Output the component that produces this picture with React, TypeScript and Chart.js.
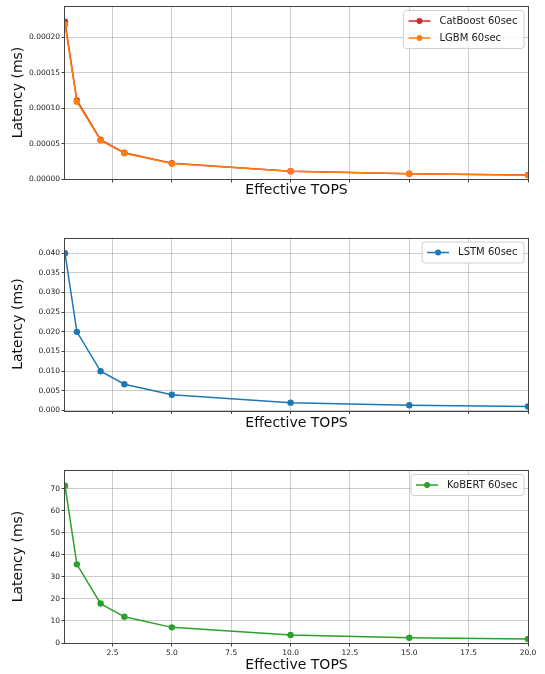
import React, { useEffect, useRef } from "react";
import { Chart, registerables } from "chart.js";

Chart.register(...registerables);

const tops = [0.5, 1, 2, 3, 5, 10, 15, 20];
const catboost = [0.000222, 0.000111, 0.0000555, 0.000037, 0.0000222, 0.0000111, 0.0000074, 0.00000555];
const lgbm = [0.000218, 0.000109, 0.0000545, 0.0000363, 0.0000218, 0.0000109, 0.0000073, 0.00000545];
const lstm = [0.04, 0.02, 0.01, 0.00667, 0.004, 0.002, 0.00133, 0.001];
const kobert = [71.4, 35.7, 17.9, 11.9, 7.1, 3.6, 2.4, 1.8];

const xTicks = [2.5, 5, 7.5, 10, 12.5, 15, 17.5, 20];
const xTickLabels = ["2.5", "5.0", "7.5", "10.0", "12.5", "15.0", "17.5", "20.0"];

const yTicks1 = [0, 0.00005, 0.0001, 0.00015, 0.0002];
const yTickLabels1 = ["0.00000", "0.00005", "0.00010", "0.00015", "0.00020"];
const yTicks2 = [0, 0.005, 0.01, 0.015, 0.02, 0.025, 0.03, 0.035, 0.04];
const yTickLabels2 = ["0.000", "0.005", "0.010", "0.015", "0.020", "0.025", "0.030", "0.035", "0.040"];
const yTicks3 = [0, 10, 20, 30, 40, 50, 60, 70];
const yTickLabels3 = ["0", "10", "20", "30", "40", "50", "60", "70"];

const FONT = '"DejaVu Sans", "Liberation Sans", sans-serif';

type Series = { label: string; data: number[]; color: string; order: number };

const spinePlugin = {
  id: "spines",
  afterDatasetsDraw(chart: any) {
    const { ctx, chartArea } = chart;
    ctx.save();
    ctx.strokeStyle = "#444";
    ctx.lineWidth = 1;
    const l = Math.round(chartArea.left) - 0.5;
    const t = Math.round(chartArea.top) + 0.5;
    const r = Math.round(chartArea.right) + 0.5;
    const b = Math.round(chartArea.bottom) + 0.5;
    ctx.strokeRect(l, t, r - l, b - t);
    ctx.restore();
  },
};

const legendPlugin = {
  id: "innerLegend",
  afterDraw(chart: any) {
    const { ctx, chartArea } = chart;
    const ds = chart.data.datasets;
    ctx.save();
    ctx.font = `10px ${FONT}`;
    const textW = Math.max(...ds.map((d: any) => ctx.measureText(d.label).width));
    const w = textW + 42.5;
    const h = 21 + 17 * (ds.length - 1);
    const x = chartArea.right - 4 - w;
    const y = chartArea.top + 4.5;
    ctx.beginPath();
    (ctx as any).roundRect(x, y, w, h, 3);
    ctx.fillStyle = "rgba(255,255,255,0.85)";
    ctx.fill();
    ctx.strokeStyle = "#d0d0d0";
    ctx.lineWidth = 1;
    ctx.stroke();
    ds.forEach((d: any, i: number) => {
      const cy = y + 10.5 + 17 * i;
      ctx.strokeStyle = d.borderColor;
      ctx.lineWidth = 1.5;
      ctx.beginPath();
      ctx.moveTo(x + 5, cy);
      ctx.lineTo(x + 27, cy);
      ctx.stroke();
      ctx.fillStyle = d.borderColor;
      ctx.beginPath();
      ctx.arc(x + 16, cy, 3, 0, Math.PI * 2);
      ctx.fill();
      ctx.fillStyle = "#222";
      ctx.textBaseline = "middle";
      ctx.textAlign = "left";
      ctx.fillText(d.label, x + 36, cy);
    });
    ctx.restore();
  },
};

function Panel(props: {
  series: Series[];
  yTicks: number[];
  yLabels: string[];
  showXLabels: boolean;
  top: number;
  height: number;
  padTop: number;
  xAxisH: number;
  clip: number;
}) {
  const ref = useRef<HTMLCanvasElement | null>(null);
  useEffect(() => {
    if (!ref.current) return;
    const allVals = props.series.flatMap((s) => s.data);
    const yMax = Math.max(...allVals) * 1.1;
    const chart = new Chart(ref.current, {
      type: "line",
      data: {
        datasets: props.series.map((s) => ({
          label: s.label,
          data: tops.map((x, i) => ({ x, y: s.data[i] })),
          borderColor: s.color,
          backgroundColor: s.color,
          pointBackgroundColor: s.color,
          pointBorderWidth: 0,
          pointRadius: 3.2,
          borderWidth: 1.5,
          tension: 0,
          fill: false,
          clip: 0,
          order: s.order,
        })),
      },
      options: {
        animation: false,
        responsive: false,
        events: [],
        layout: { padding: { left: 0, right: 17, top: props.padTop, bottom: 0 } },
        plugins: { legend: { display: false }, tooltip: { enabled: false } },
        scales: {
          x: {
            type: "linear",
            min: 0.5,
            max: 20,
            afterBuildTicks: (scale: any) => {
              scale.ticks = xTicks.map((v) => ({ value: v }));
            },
            afterFit: (scale: any) => {
              scale.height = props.xAxisH;
            },
            border: { display: false },
            grid: {
              color: "rgba(176,176,176,0.65)",
              lineWidth: 1,
              tickColor: "#444",
              tickLength: 3.5,
              tickWidth: 1,
            },
            ticks: {
              display: props.showXLabels,
              autoSkip: false,
              maxRotation: 0,
              padding: 2,
              color: "#222",
              font: { family: FONT, size: 7.5 },
              callback: (_v: any, i: number) => xTickLabels[i],
            },
            title: {
              display: true,
              text: "Effective TOPS",
              color: "#111",
              font: { family: FONT, size: 14 },
              padding: 0,
            },
          },
          y: {
            type: "linear",
            min: 0,
            max: yMax,
            afterBuildTicks: (scale: any) => {
              scale.ticks = props.yTicks.map((v) => ({ value: v }));
            },
            afterFit: (scale: any) => {
              scale.width = 65;
            },
            border: { display: false },
            grid: {
              color: "rgba(176,176,176,0.65)",
              lineWidth: 1,
              tickColor: "#444",
              tickLength: 3.5,
              tickWidth: 1,
            },
            ticks: {
              autoSkip: false,
              padding: 1.5,
              color: "#222",
              font: { family: FONT, size: 7.5 },
              callback: (_v: any, i: number) => props.yLabels[i],
            },
            title: {
              display: true,
              text: "Latency (ms)",
              color: "#111",
              font: { family: FONT, size: 14 },
              padding: { top: 9.6, bottom: 0 },
            },
          },
        },
      },
      plugins: [spinePlugin, legendPlugin],
    } as any);
    return () => chart.destroy();
  }, []);
  return (
    <div
      style={{
        position: "absolute",
        left: 0,
        top: props.top,
        width: 545,
        height: props.clip,
        overflow: "hidden",
      }}
    >
      <canvas ref={ref} width={545} height={props.height} style={{ display: "block" }} />
    </div>
  );
}

export default function App() {
  return (
    <div
      style={{
        position: "absolute",
        left: 0,
        top: 0,
        width: 545,
        height: 674,
        overflow: "hidden",
        background: "#fff",
      }}
    >
      <Panel
        series={[
          { label: "CatBoost 60sec", data: catboost, color: "#d62728", order: 1 },
          { label: "LGBM 60sec", data: lgbm, color: "#ff7f0e", order: 0 },
        ]}
        yTicks={yTicks1}
        yLabels={yTickLabels1}
        showXLabels={false}
        top={0}
        height={199}
        padTop={6}
        xAxisH={20}
        clip={196}
      />
      <Panel
        series={[{ label: "LSTM 60sec", data: lstm, color: "#1f77b4", order: 0 }]}
        yTicks={yTicks2}
        yLabels={yTickLabels2}
        showXLabels={false}
        top={230}
        height={202}
        padTop={7.5}
        xAxisH={21.5}
        clip={202}
      />
      <Panel
        series={[{ label: "KoBERT 60sec", data: kobert, color: "#2ca02c", order: 0 }]}
        yTicks={yTicks3}
        yLabels={yTickLabels3}
        showXLabels={true}
        top={460}
        height={214}
        padTop={10}
        xAxisH={31}
        clip={214}
      />
    </div>
  );
}
